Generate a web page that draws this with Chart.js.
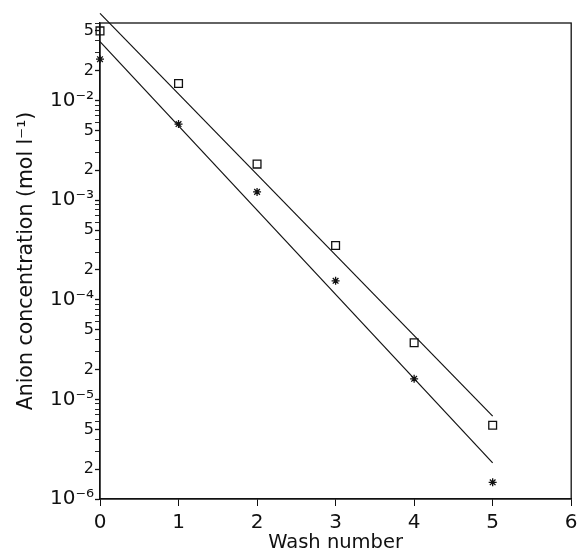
<!DOCTYPE html>
<html lang="en">
<head>
    <meta charset="UTF-8">
    <title>Anion concentration vs wash number</title>
    <script src="https://cdn.jsdelivr.net/npm/chart.js"></script>
    <style>
        body {
            margin: 0;
            background: #fff;
        }
        .chart-box {
            width: 578px;
            height: 557px;
        }
    </style>
</head>
<body>
    <div class="chart-box">
        <canvas id="washChart" width="578" height="557"></canvas>
    </div>

    <script>
        // data
        const washNo = [0, 1, 2, 3, 4, 5];
        const squareConc = [0.050, 0.0148, 0.0023, 3.5e-4, 3.7e-5, 5.5e-6];
        const starConc = [0.026, 0.0058, 0.00121, 1.55e-4, 1.61e-5, 1.47e-6];
        const fitX = [0, 5];
        const squareFit = [0.075, 6.8e-6];
        const starFit = [0.039, 2.3e-6];
        const xTicks = [0, 1, 2, 3, 4, 5, 6];
        const yDecades = [-6, -5, -4, -3, -2];
        const yLabelled = [1, 2, 5];
        const yMin = 1e-6;
        const yMax = 0.06;

        const sup = { '-': '⁻', '0': '⁰', '1': '¹', '2': '²', '3': '³', '4': '⁴', '5': '⁵', '6': '⁶', '7': '⁷', '8': '⁸', '9': '⁹' };

        function splitVal(v) {
            const e = Math.floor(Math.log10(v) + 1e-9);
            const m = Math.round(v / Math.pow(10, e));
            return { e, m };
        }

        function pts(xs, ys) {
            return xs.map((x, i) => ({ x: x, y: ys[i] }));
        }

        const frame = {
            id: 'frame',
            afterDraw(chart) {
                const a = chart.chartArea;
                const ctx = chart.ctx;
                ctx.save();
                ctx.strokeStyle = '#111';
                ctx.lineWidth = 1.3;
                ctx.strokeRect(a.left, a.top, a.right - a.left, a.bottom - a.top);
                ctx.restore();
            }
        };

        const fontFamily = "'DejaVu Sans', sans-serif";

        new Chart(document.getElementById('washChart'), {
            type: 'scatter',
            data: {
                datasets: [
                    {
                        label: 'fit upper',
                        data: pts(fitX, squareFit),
                        showLine: true,
                        borderColor: '#111',
                        borderWidth: 1.2,
                        pointRadius: 0,
                        clip: false
                    },
                    {
                        label: 'fit lower',
                        data: pts(fitX, starFit),
                        showLine: true,
                        borderColor: '#111',
                        borderWidth: 1.2,
                        pointRadius: 0,
                        clip: false
                    },
                    {
                        label: 'squares',
                        data: pts(washNo, squareConc),
                        pointStyle: 'rect',
                        pointRadius: 5.5,
                        borderColor: '#111',
                        borderWidth: 1.3,
                        backgroundColor: 'rgba(0,0,0,0)',
                        clip: false
                    },
                    {
                        label: 'stars',
                        data: pts(washNo, starConc),
                        pointStyle: 'star',
                        pointRadius: 4,
                        borderColor: '#111',
                        borderWidth: 1.3,
                        clip: false
                    }
                ]
            },
            options: {
                responsive: false,
                animation: false,
                layout: { padding: { top: 23, right: 6, left: 0, bottom: 0 } },
                plugins: {
                    legend: { display: false },
                    tooltip: { enabled: false }
                },
                scales: {
                    x: {
                        type: 'linear',
                        min: 0,
                        max: 6,
                        afterBuildTicks: scale => {
                            scale.ticks = xTicks.map(v => ({ value: v }));
                        },
                        afterFit: scale => {
                            scale.height = 58;
                            scale.paddingLeft = 0;
                            scale.paddingRight = 0;
                        },
                        border: { display: true, color: '#111', width: 1.3 },
                        grid: { drawOnChartArea: false, drawTicks: true, tickLength: 7, color: '#111' },
                        ticks: {
                            color: '#111',
                            padding: 5,
                            font: { family: fontFamily, size: 20 },
                            callback: v => String(v)
                        },
                        title: {
                            display: true,
                            text: 'Wash number',
                            color: '#111',
                            padding: { top: 0, bottom: 2 },
                            font: { family: fontFamily, size: 19.5 }
                        }
                    },
                    y: {
                        type: 'logarithmic',
                        min: yMin,
                        max: yMax,
                        afterBuildTicks: scale => {
                            const t = [];
                            yDecades.forEach(e => {
                                for (let m = 1; m <= 9; m++) {
                                    const v = m * Math.pow(10, e);
                                    if (v <= yMax * 1.0001) t.push({ value: v });
                                }
                            });
                            scale.ticks = t;
                        },
                        afterFit: scale => {
                            scale.width = 100;
                            scale.paddingTop = 0;
                            scale.paddingBottom = 0;
                        },
                        border: { display: true, color: '#111', width: 1.3 },
                        grid: {
                            drawOnChartArea: false,
                            drawTicks: true,
                            tickLength: 5,
                            color: '#111',
                            tickWidth: ctx => (ctx.tick && yLabelled.includes(splitVal(ctx.tick.value).m) ? 1.3 : 0.9)
                        },
                        ticks: {
                            autoSkip: false,
                            color: '#111',
                            padding: 1,
                            font: ctx => {
                                const big = ctx.tick && splitVal(ctx.tick.value).m === 1;
                                return { family: fontFamily, size: big ? 20 : 16 };
                            },
                            callback: v => {
                                const s = splitVal(v);
                                if (s.m === 1) {
                                    return '10' + String(s.e).split('').map(c => sup[c]).join('');
                                }
                                if (s.m === 2 || s.m === 5) return String(s.m);
                                return '';
                            }
                        },
                        title: {
                            display: true,
                            text: 'Anion concentration (mol l⁻¹)',
                            color: '#111',
                            padding: { top: 14, bottom: 0 },
                            font: { family: fontFamily, size: 20.5 }
                        }
                    }
                }
            },
            plugins: [frame]
        });
    </script>
</body>
</html>
